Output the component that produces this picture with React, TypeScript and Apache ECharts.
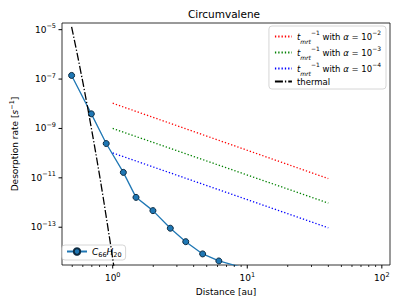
import React, { useEffect, useRef } from "react";
import * as echarts from "echarts";

// C66H20 desorption rate vs distance
const distC66 = [0.495, 0.694, 0.895, 1.2, 1.49, 1.99, 2.68, 3.49, 4.66, 6.15, 8.19, 10.8];
const rateC66 = [1.4e-7, 3.9e-9, 2.45e-10, 1.66e-11, 1.62e-12, 4.7e-13, 9.1e-14, 2.6e-14, 8.3e-15, 4.3e-15, 2.8e-15, 1.8e-15];

// thermal desorption
const distThermal = [0.495, 0.544, 0.602, 0.65, 0.7, 0.75, 0.8, 0.85, 0.9, 0.957, 1.0, 1.05];
const rateThermal = [1.3e-5, 1.1e-6, 6.8e-8, 7.4e-9, 8.0e-10, 9.5e-11, 1.2e-11, 1.6e-12, 2.2e-13, 2.6e-14, 5.4e-15, 8.7e-16];

// t_mrt^-1 lines
const distMrt = [1.0, 40];
const rateAlpha2 = [1.05e-8, 9.3e-12];
const rateAlpha3 = [1.0e-9, 9.5e-13];
const rateAlpha4 = [1.02e-10, 9.5e-14];

// axis ticks (decades as exponents; minor x ticks as distances)
const xMajorTicks = [0, 1, 2];
const xMinorTicks = [0.5, 0.6, 0.7, 0.8, 0.9, 2, 3, 4, 5, 6, 7, 8, 9, 20, 30, 40, 50, 60, 70, 80, 90];
const yMajorTicks = [-13, -11, -9, -7, -5];

const toLog = (xs: number[], ys: number[]) => xs.map((x, i) => [Math.log10(x), Math.log10(ys[i])]);

const FONT = "DejaVu Sans";

export default function App() {
  const ref = useRef<HTMLDivElement>(null);
  useEffect(() => {
    if (!ref.current) return;
    const chart = echarts.init(ref.current, null, { renderer: "svg" });
    const xMin = Math.log10(0.42);
    const xMax = Math.log10(115);
    const yMin = -14.53;
    const yMax = -4.73;
    const supRich = {
      sup: { fontSize: 6.5, fontFamily: FONT, color: "#000", verticalAlign: "top", lineHeight: 14 },
      base: { fontSize: 9, fontFamily: FONT, color: "#000", lineHeight: 14 },
    };
    const legendRich = {
      base: { fontSize: 8.5, fontFamily: FONT, color: "#000", lineHeight: 15 },
      it: { fontSize: 8.5, fontFamily: FONT, fontStyle: "italic", color: "#000", lineHeight: 15 },
      sup: { fontSize: 6, fontFamily: FONT, color: "#000", verticalAlign: "top", lineHeight: 15 },
      sub: { fontSize: 6, fontFamily: FONT, fontStyle: "italic", color: "#000", verticalAlign: "bottom", lineHeight: 15 },
    };
    const c66Rich = {
      it: { fontSize: 9, fontFamily: FONT, fontStyle: "italic", color: "#000", lineHeight: 13 },
      subn: { fontSize: 6.5, fontFamily: FONT, color: "#000", verticalAlign: "bottom", lineHeight: 13 },
    };
    const mrtLabel = (p: string) =>
      `{it|t}{sub|mrt}{sup|−1}{base| with }{it|α}{base| = 10}{sup|−${p}}`;
    const legendNames: Record<string, string> = {
      a2: mrtLabel("2"),
      a3: mrtLabel("3"),
      a4: mrtLabel("4"),
      thermal: "{base|thermal}",
      c66: "{it|C}{subn|66}{it|H}{subn|20}",
    };
    const tickSeries = (data: number[][], size: number[], offset: number[]) => ({
      type: "scatter",
      data,
      symbol: "rect",
      symbolSize: size,
      symbolOffset: offset,
      clip: false,
      silent: true,
      itemStyle: { color: "#000", opacity: 1 },
      z: 5,
    });
    const option: any = {
      animation: false,
      backgroundColor: "#fff",
      grid: {
        left: 58,
        right: 17,
        top: 23,
        bottom: 40,
        show: true,
        borderColor: "#000",
        borderWidth: 0.8,
        backgroundColor: "transparent",
      },
      graphic: [
        {
          type: "text",
          x: 224,
          y: 8,
          style: { text: "Circumvalene", font: `10.5px "${FONT}"`, fill: "#000", textAlign: "center" },
        },
      ],
      xAxis: {
        type: "value",
        min: xMin,
        max: xMax,
        position: "bottom",
        splitLine: { show: false },
        axisLine: { show: false, onZero: false },
        axisTick: { show: false },
        axisLabel: {
          customValues: xMajorTicks,
          margin: 6,
          formatter: (v: number) => `{base|10}{sup|${Math.round(v)}}`,
          rich: supRich,
        },
        name: "Distance [au]",
        nameLocation: "middle",
        nameGap: 22,
        nameTextStyle: { fontFamily: FONT, fontSize: 9, color: "#000" },
      },
      yAxis: {
        type: "value",
        min: yMin,
        max: yMax,
        position: "left",
        splitLine: { show: false },
        axisLine: { show: false, onZero: false },
        axisTick: { show: false },
        axisLabel: {
          customValues: yMajorTicks,
          margin: 6,
          formatter: (v: number) => `{base|10}{sup|−${Math.abs(Math.round(v))}}`,
          rich: supRich,
        },
        name: "{base|Desorption rate [}{it|s}{sup|−1}{base|]}",
        nameLocation: "middle",
        nameGap: 40,
        nameTextStyle: {
          rich: {
            base: { fontSize: 9, fontFamily: FONT, color: "#000", lineHeight: 14 },
            it: { fontSize: 9, fontFamily: FONT, fontStyle: "italic", color: "#000", lineHeight: 14 },
            sup: { fontSize: 6.5, fontFamily: FONT, color: "#000", verticalAlign: "top", lineHeight: 14 },
          },
        },
      },
      legend: [
        {
          data: ["a2", "a3", "a4", "thermal"],
          orient: "vertical",
          right: 21,
          top: 26,
          itemWidth: 17,
          itemHeight: 8,
          itemGap: 1,
          padding: [3, 5, 3, 5],
          borderColor: "#ccc",
          borderWidth: 0.8,
          borderRadius: 3,
          backgroundColor: "rgba(255,255,255,0.8)",
          itemStyle: { opacity: 0 },
          formatter: (n: string) => legendNames[n],
          textStyle: { rich: legendRich },
        },
        {
          data: ["c66"],
          orient: "vertical",
          left: 62,
          top: 245,
          itemWidth: 20,
          itemHeight: 8,
          padding: [2, 4, 2, 4],
          borderColor: "#ccc",
          borderWidth: 0.8,
          borderRadius: 3,
          backgroundColor: "rgba(255,255,255,0.8)",
          formatter: (n: string) => legendNames[n],
          textStyle: { rich: c66Rich },
        },
      ],
      series: [
        tickSeries(xMajorTicks.map((v) => [v, yMin]), [1, 3.5], [0, 1.75]),
        tickSeries(xMinorTicks.map((v) => [Math.log10(v), yMin]), [0.8, 2], [0, 1]),
        tickSeries(yMajorTicks.map((v) => [xMin, v]), [3.5, 1], [-1.75, 0]),
        {
          name: "c66",
          type: "line",
          data: toLog(distC66, rateC66),
          symbol: "circle",
          symbolSize: 6,
          showSymbol: true,
          clip: true,
          lineStyle: { color: "#1f77b4", width: 1.3 },
          itemStyle: { color: "#1f77b4", borderColor: "#0d2a40", borderWidth: 1 },
          z: 3,
        },
        {
          name: "a2",
          type: "line",
          data: toLog(distMrt, rateAlpha2),
          symbol: "none",
          lineStyle: { color: "#ff0000", width: 1.3, type: [1.3, 2] },
          itemStyle: { color: "#ff0000" },
        },
        {
          name: "a3",
          type: "line",
          data: toLog(distMrt, rateAlpha3),
          symbol: "none",
          lineStyle: { color: "#008000", width: 1.3, type: [1.3, 2] },
          itemStyle: { color: "#008000" },
        },
        {
          name: "a4",
          type: "line",
          data: toLog(distMrt, rateAlpha4),
          symbol: "none",
          lineStyle: { color: "#0000ff", width: 1.3, type: [1.3, 2] },
          itemStyle: { color: "#0000ff" },
        },
        {
          name: "thermal",
          type: "line",
          data: toLog(distThermal, rateThermal),
          symbol: "none",
          clip: true,
          lineStyle: { color: "#000", width: 1.3, type: [8, 2, 1.3, 2] },
          itemStyle: { color: "#000" },
          z: 4,
        },
      ],
    };
    chart.setOption(option);
    return () => chart.dispose();
  }, []);
  return (
    <div
      ref={ref}
      style={{ position: "fixed", left: 0, top: 0, width: 407, height: 305 }}
    />
  );
}
